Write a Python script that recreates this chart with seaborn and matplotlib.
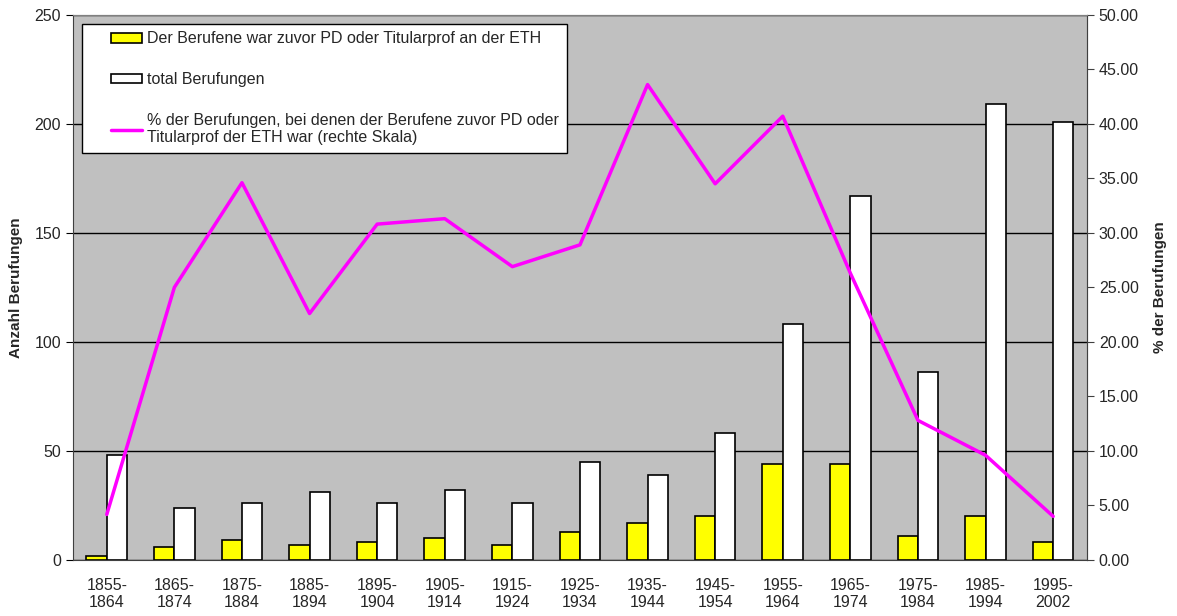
import numpy as np
import pandas as pd
import matplotlib
matplotlib.use("Agg")
import matplotlib.pyplot as plt
import seaborn as sns
from matplotlib.patches import Patch, Rectangle
from matplotlib.lines import Line2D
from matplotlib.legend_handler import HandlerPatch, HandlerLine2D

# Daten
perioden = ["1855-\n1864", "1865-\n1874", "1875-\n1884", "1885-\n1894", "1895-\n1904",
            "1905-\n1914", "1915-\n1924", "1925-\n1934", "1935-\n1944", "1945-\n1954",
            "1955-\n1964", "1965-\n1974", "1975-\n1984", "1985-\n1994", "1995-\n2002"]
vorher_eth = [2, 6, 9, 7, 8, 10, 7, 13, 17, 20, 44, 44, 11, 20, 8]
total = [48, 24, 26, 31, 26, 32, 26, 45, 39, 58, 108, 167, 86, 209, 201]
prozent = [4.17, 25.0, 34.6, 22.6, 30.8, 31.3, 26.9, 28.9, 43.6, 34.5, 40.7, 26.3, 12.8, 9.6, 4.0]

lab_eth = "Der Berufene war zuvor PD oder Titularprof an der ETH"
lab_total = "total Berufungen"
lab_pct = "% der Berufungen, bei denen der Berufene zuvor PD oder\nTitularprof der ETH war (rechte Skala)"

sns.set_style("white")
plt.rcParams['font.family'] = ['Liberation Sans', 'DejaVu Sans']
plt.rcParams['font.size'] = 11.5

df = pd.DataFrame({"periode": perioden * 2,
                   "wert": vorher_eth + total,
                   "serie": [lab_eth] * len(perioden) + [lab_total] * len(perioden)})

fig = plt.figure(figsize=(11.77, 6.16), dpi=100)
ax = fig.add_axes([0.062, 0.091, 0.8615, 0.885])
ax.set_facecolor("#C0C0C0")

sns.barplot(data=df, x="periode", y="wert", hue="serie", palette=["#FFFF00", "#FFFFFF"],
            edgecolor="black", linewidth=1.2, width=0.6, gap=0, ax=ax, legend=False,
            errorbar=None, saturation=1)

ax.set_ylim(0, 250)
ax.set_xlim(-0.5, len(perioden) - 0.5)
ax.set_yticks(np.arange(0, 251, 50))
ax.yaxis.grid(True, color="black", linewidth=1)
ax.set_axisbelow(True)
ax.set_xlabel("")
ax.set_ylabel("Anzahl Berufungen", fontweight="bold", fontsize=11, labelpad=8)
ax.tick_params(axis="x", which="major", length=0, pad=13, labelsize=11.5)
ax.set_xticks(np.arange(-0.5, len(perioden), 1), minor=True)
ax.tick_params(axis="x", which="minor", length=5, color="black")
ax.tick_params(axis="y", length=5, direction="out", color="black", left=True, labelsize=11.5)
for s in ["left", "bottom"]:
    ax.spines[s].set_color("#404040")
for s in ["top", "right"]:
    ax.spines[s].set_color("#808080")

ax2 = ax.twinx()
sns.lineplot(x=np.arange(len(perioden)), y=prozent, ax=ax2, color="#FF00FF", linewidth=2.5)
ax2.set_ylim(0, 50)
ax2.set_yticks(np.arange(0, 50.1, 5))
ax2.set_yticklabels([f"{v:.2f}" for v in np.arange(0, 50.1, 5)])
ax2.set_ylabel("% der Berufungen", fontweight="bold", fontsize=11, labelpad=10)
ax2.tick_params(axis="y", length=5, direction="out", color="#404040", right=True, labelsize=11.5)
ax2.spines["right"].set_color("#404040")
ax2.spines["top"].set_color("#808080")
ax2.spines["left"].set_visible(False)
ax2.spines["bottom"].set_visible(False)

# Legenden-Symbole rechtsbündig im (breiteren) Symbolbereich, wie bei Excel
SYM_B = 22
SYM_LUECKE = 2


def rechteck_rechts(legend, orig_handle, xdescent, ydescent, width, height, fontsize):
    return Rectangle((-xdescent + width - SYM_LUECKE - SYM_B, -ydescent), SYM_B, height)


class LinieRechts(HandlerLine2D):
    def get_xdata(self, legend, xdescent, ydescent, width, height, fontsize):
        xd = np.array([-xdescent + width - SYM_LUECKE - SYM_B, -xdescent + width - SYM_LUECKE])
        return xd, xd


handles = [Patch(facecolor="#FFFF00", edgecolor="black", linewidth=1.2),
           Patch(facecolor="white", edgecolor="black", linewidth=1.2),
           Line2D([0], [0], color="#FF00FF", linewidth=2.5)]
leg = ax2.legend(handles, [lab_eth, lab_total, lab_pct], loc="upper left",
                 bbox_to_anchor=(0.009, 0.984), frameon=True, fancybox=False,
                 edgecolor="black", framealpha=1, fontsize=11.5, labelspacing=1.6,
                 handlelength=3.4, handleheight=0.55, handletextpad=0.15, borderpad=0.5,
                 borderaxespad=0,
                 handler_map={Patch: HandlerPatch(patch_func=rechteck_rechts),
                              Line2D: LinieRechts()})
leg.get_frame().set_linewidth(1)

fig.savefig("out.png", dpi=100)
